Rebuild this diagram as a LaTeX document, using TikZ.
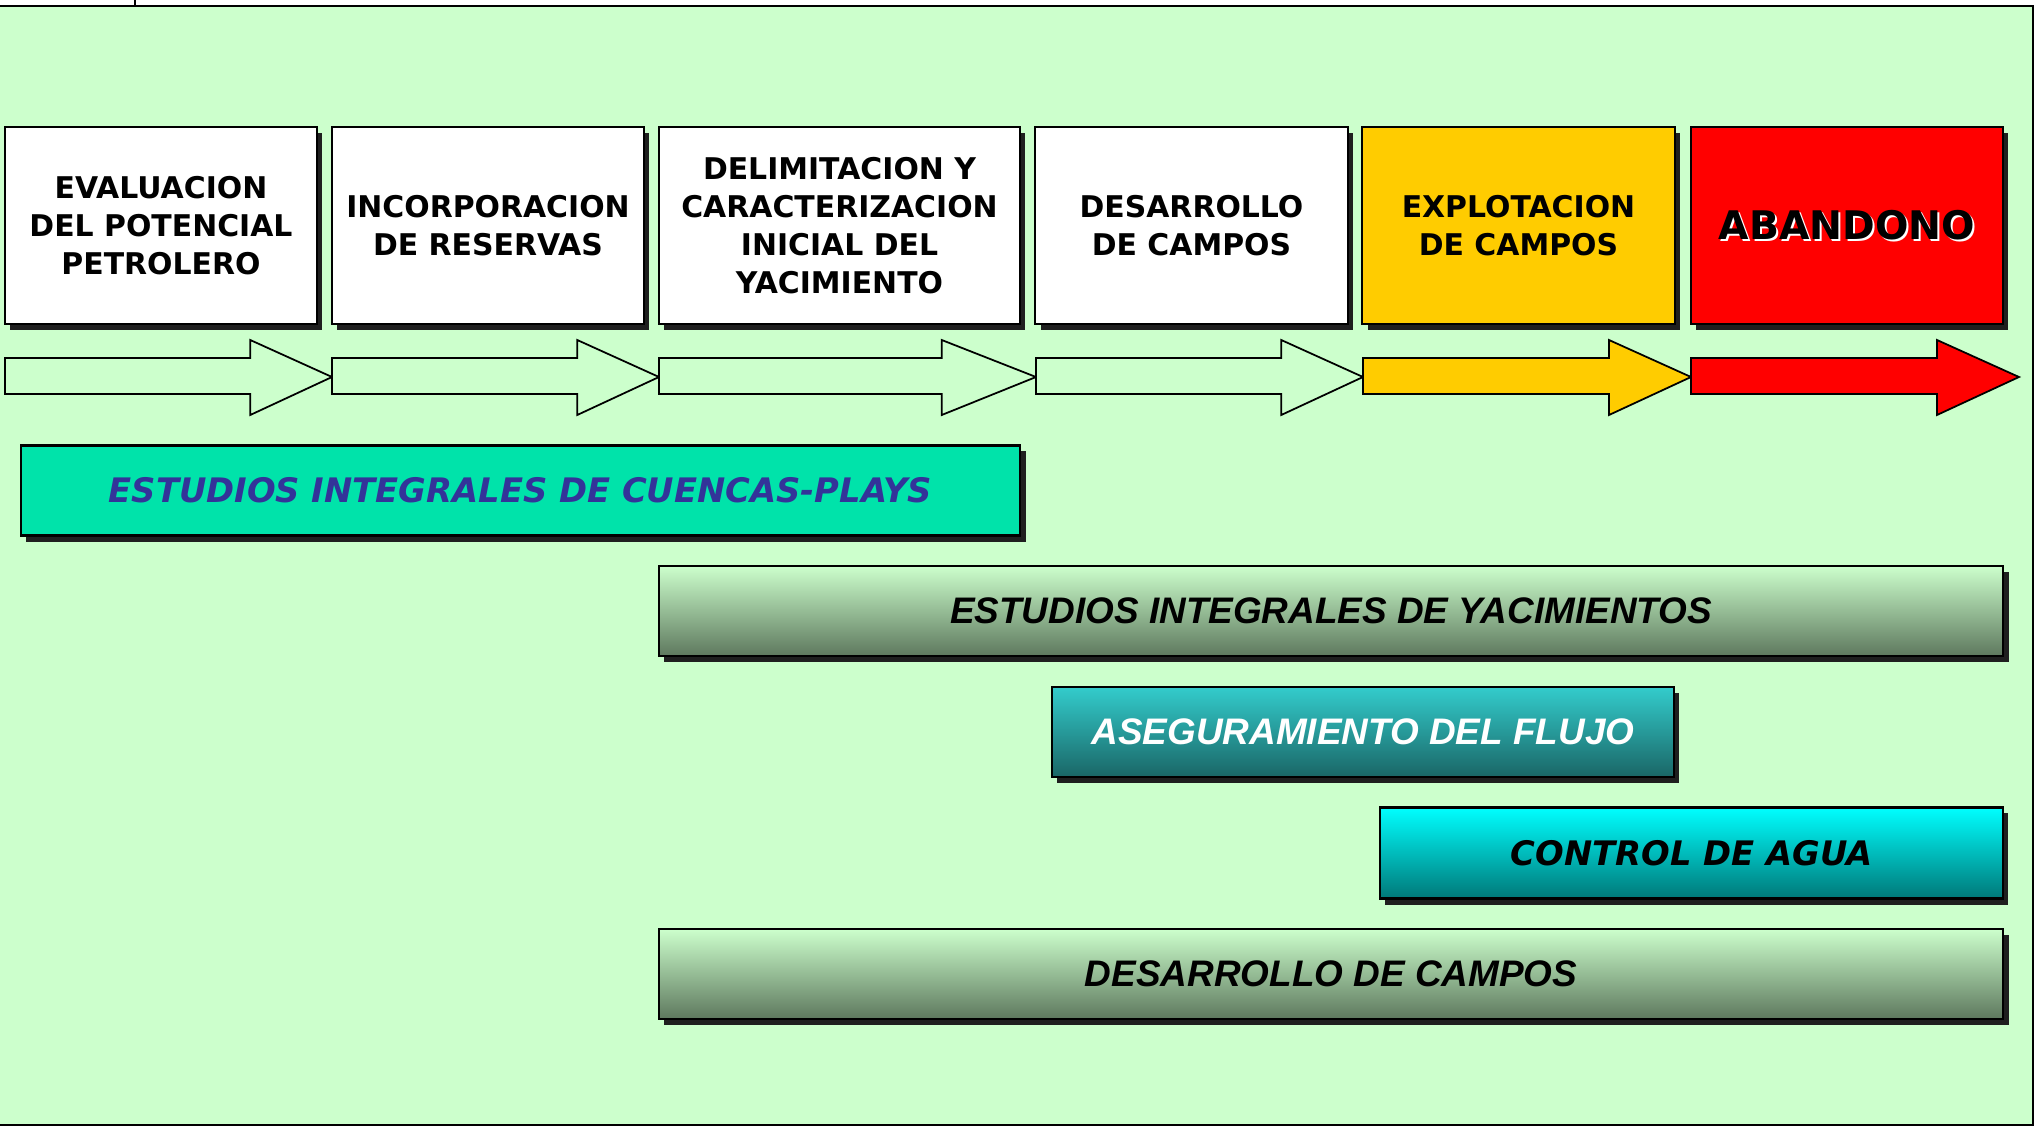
\documentclass[tikz,border=0pt]{standalone}
\usepackage{fontspec}
\usetikzlibrary{shadows}
\newfontfamily\tahoma{DejaVu Sans}
\newfontfamily\arial{Liberation Sans}
\definecolor{fondo}{RGB}{204,255,204}
\definecolor{amarillo}{RGB}{255,204,0}
\definecolor{verdecuenca}{RGB}{0,227,170}
\definecolor{azultexto}{RGB}{51,51,153}
\definecolor{grisclaro}{RGB}{168,206,168}
\definecolor{grisoscuro}{RGB}{94,120,94}
\definecolor{tealclaro}{RGB}{51,204,204}
\definecolor{tealoscuro}{RGB}{26,102,102}
\definecolor{cianmedio}{RGB}{0,214,214}
\definecolor{cianoscuro}{RGB}{0,120,120}
\tikzset{
  sombra/.style={drop shadow={shadow xshift=1.5pt,shadow yshift=-1.7pt,fill=black!88,opacity=1}},
  fase/.style={draw,line width=0.6pt,fill=white,sombra,minimum width=3.12cm,minimum height=1.97cm,
    inner sep=0pt,align=center,font=\tahoma\bfseries\fontsize{8.5}{10.8}\selectfont},
  barra/.style={draw,line width=0.6pt,sombra,minimum height=0.9cm,inner sep=0pt,
    font=\arial\bfseries\itshape\fontsize{10.5}{12}\selectfont},
  flecha/.style={draw,line width=0.5pt},
}
\begin{document}
\begin{tikzpicture}[x=0.01cm,y=-0.01cm]
        \useasboundingbox (0,0) rectangle (2035,1127);
        \fill[white] (0,0) rectangle (2035,1127);
        \fill[fondo] (0,6) rectangle (2033,1125);
        \draw[line width=0.7pt] (0,6) -- (2033,6) -- (2033,1125) -- (0,1125);
        \draw[line width=0.6pt] (135,0) -- (135,6);
        \foreach \a/\b/\c in {5/332/fondo,332/659/fondo,659/1036/fondo,1036/1363/fondo,1363/1691/amarillo,1691/2019/red}{
            \pgfmathsetmacro\h{\b-0.25*(\b-\a)}
            \filldraw[flecha,fill=\c] (\a,358) -- (\h,358) -- (\h,340) -- (\b,377) -- (\h,415) -- (\h,394) -- (\a,394) -- cycle;
        }
        \node[fase] (evaluacion) at (161,225.5) {EVALUACION\\DEL POTENCIAL\\PETROLERO};
        \node[fase] (incorporacion) at (488,225.5) {INCORPORACION\\DE RESERVAS};
        \node[fase,minimum width=3.61cm] (delimitacion) at (839.5,225.5) {DELIMITACION Y\\CARACTERIZACION\\INICIAL DEL\\YACIMIENTO};
        \node[fase] (desarrollo) at (1191.5,225.5) {DESARROLLO\\DE CAMPOS};
        \node[fase,fill=amarillo] (explotacion) at (1518.5,225.5) {EXPLOTACION\\DE CAMPOS};
        \node[fase,fill=red] (abandono) at (1847,225.5) {};
        \node[font=\tahoma\bfseries\fontsize{11.2}{13}\selectfont,white,xshift=0.6pt,yshift=-0.6pt] (abandonobrillo) at (abandono) {ABANDONO};
        \node[font=\tahoma\bfseries\fontsize{11.2}{13}\selectfont] (abandonotexto) at (abandono) {ABANDONO};
        \node[barra,fill=verdecuenca,minimum width=9.99cm,text=azultexto,
            font=\tahoma\bfseries\itshape\fontsize{9.6}{12}\selectfont] (cuencas) at (520.5,490.5) {ESTUDIOS INTEGRALES DE CUENCAS-PLAYS};
        \node[barra,top color=fondo,middle color=grisclaro,bottom color=grisoscuro,minimum width=13.44cm] (yacimientos) at (1331,611) {ESTUDIOS INTEGRALES DE YACIMIENTOS};
        \node[barra,top color=tealclaro,bottom color=tealoscuro,minimum width=6.22cm,text=white] (flujo) at (1363,732) {ASEGURAMIENTO DEL FLUJO};
        \node[barra,top color=cyan,middle color=cianmedio,bottom color=cianoscuro,minimum width=6.23cm,minimum height=0.91cm,
            font=\tahoma\bfseries\itshape\fontsize{9.6}{12}\selectfont] (agua) at (1691.5,853) {CONTROL DE AGUA};
        \node[barra,top color=fondo,middle color=grisclaro,bottom color=grisoscuro,minimum width=13.44cm] (campos) at (1331,974) {DESARROLLO DE CAMPOS};
\end{tikzpicture}
\end{document}
